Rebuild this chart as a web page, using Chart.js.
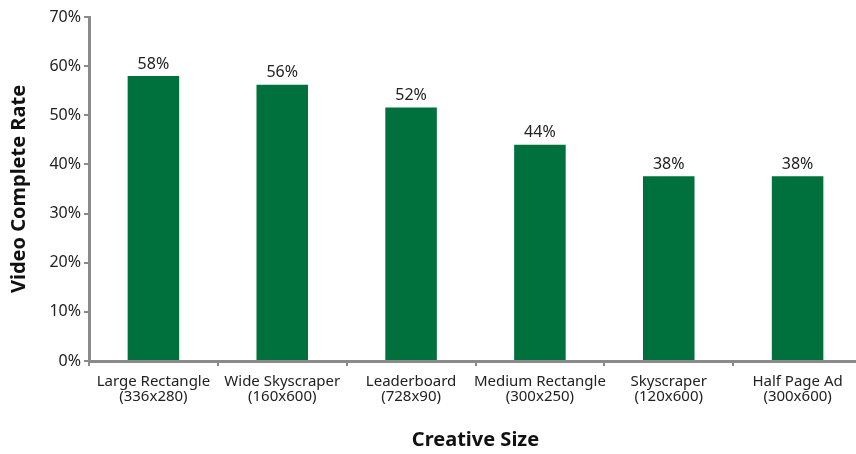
<!DOCTYPE html>
<html>
<head>
<meta charset="utf-8">
<script src="https://cdn.jsdelivr.net/npm/chart.js@4/dist/chart.umd.min.js"></script>
<style>
  html, body { margin: 0; padding: 0; background: #fff; overflow: hidden; }
  #wrap { width: 862px; height: 454px; }
</style>
</head>
<body>
<div id="wrap"><canvas id="chart"></canvas></div>
<script>
const categories = [
    ["Large Rectangle", "(336x280)"],
    ["Wide Skyscraper", "(160x600)"],
    ["Leaderboard", "(728x90)"],
    ["Medium Rectangle", "(300x250)"],
    ["Skyscraper", "(120x600)"],
    ["Half Page Ad", "(300x600)"]
];
const completeRate = [58, 56.2, 51.6, 44, 37.6, 37.6];
const yTicks = [0, 10, 20, 30, 40, 50, 60, 70];

const FONT = "'Noto Sans', sans-serif";
const AXIS = "#8a8a8a";

// value labels above each bar
const barLabels = {
    id: "barLabels",
    afterDatasetsDraw(chart) {
        const ctx = chart.ctx;
        const meta = chart.getDatasetMeta(0);
        ctx.save();
        ctx.font = `16px ${FONT}`;
        ctx.fillStyle = "#222";
        ctx.textAlign = "center";
        ctx.textBaseline = "bottom";
        meta.data.forEach((bar, i) => {
            ctx.fillText(Math.round(completeRate[i]) + "%", bar.x, bar.y - 4);
        });
        ctx.restore();
    }
};

new Chart(document.getElementById("chart"), {
    type: "bar",
    data: {
        labels: categories,
        datasets: [{
            data: completeRate,
            backgroundColor: "#00703c",
            categoryPercentage: 1,
            barPercentage: 0.4
        }]
    },
    options: {
        responsive: true, maintainAspectRatio: false,
        animation: false,
        layout: { padding: { top: 17, left: 0, right: 0, bottom: 0 } },
        plugins: { legend: { display: false }, tooltip: { enabled: false } },
        scales: {
            x: {
                grid: { display: true, drawOnChartArea: false, tickLength: 5, color: AXIS, lineWidth: 2 },
                border: { color: AXIS, width: 3 },
                ticks: { color: "#222", font: { family: FONT, size: 15, lineHeight: 1.0 }, padding: 8, maxRotation: 0, autoSkip: false },
                title: { display: true, text: "Creative Size", color: "#111", font: { family: FONT, size: 20, weight: "bold" }, padding: { top: 14, bottom: 2 } },
                afterFit(s) { s.height = 93; }
            },
            y: {
                min: 0, max: 70,
                afterBuildTicks(s) { s.ticks = yTicks.map(v => ({ value: v })); },
                grid: { display: true, drawOnChartArea: false, tickLength: 5, color: AXIS, lineWidth: 2 },
                border: { color: AXIS, width: 3 },
                ticks: { color: "#222", font: { family: FONT, size: 16 }, padding: 3, callback: v => v + "%" },
                title: { display: true, text: "Video Complete Rate", color: "#111", font: { family: FONT, size: 20, weight: "bold" }, padding: { top: 7, bottom: 6 } },
                afterFit(s) { s.width = 89; }
            }
        }
    },
    plugins: [barLabels]
});
</script>
</body>
</html>
